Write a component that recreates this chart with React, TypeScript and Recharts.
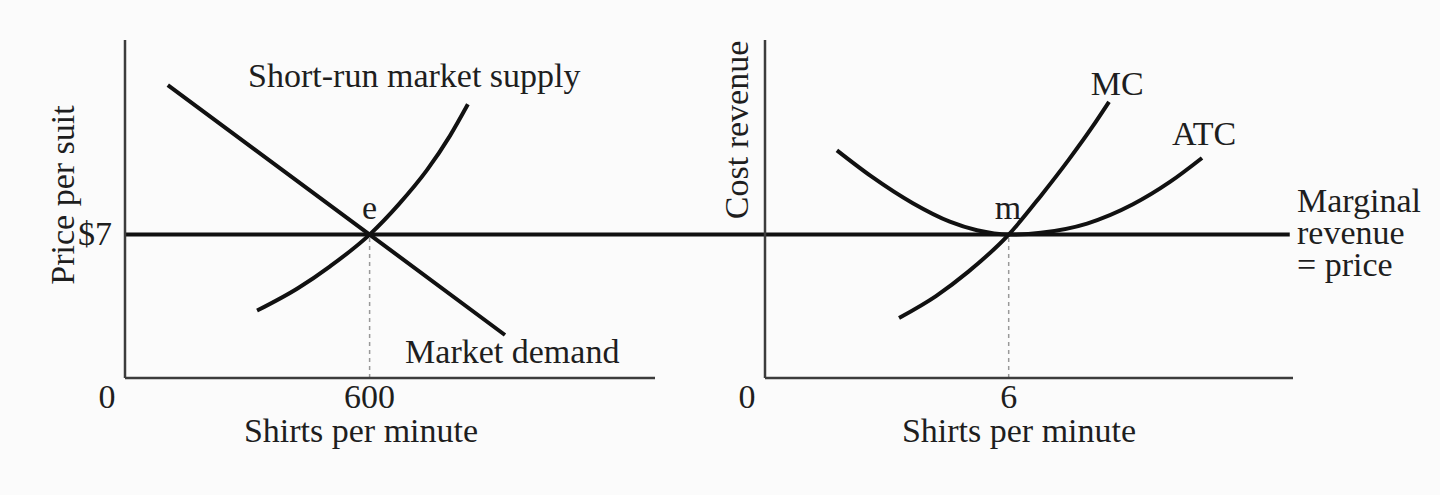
import {
  LineChart,
  Line,
  XAxis,
  YAxis,
  ReferenceLine,
  ReferenceDot,
  Label,
} from 'recharts'

// left panel: market
const demandQ = [105, 600, 932]
const demandP = [14.3, 7, 2.1]
const supplyQ = [324, 424, 503, 600, 672, 741, 797, 841]
const supplyP = [3.29, 4.38, 5.45, 7, 8.49, 10.16, 11.82, 13.36]

// right panel: firm
const mcQ = [3.3, 4.21, 5.0, 6, 6.79, 7.48, 8.05, 8.47]
const mcP = [2.93, 4.0, 5.18, 7, 8.89, 10.66, 12.23, 13.48]
const atcQ = [1.77, 2.61, 3.64, 4.55, 5.22, 6, 6.79, 7.93, 9.06, 9.97, 10.76]
const atcP = [11.11, 9.85, 8.53, 7.63, 7.21, 7, 7.09, 7.54, 8.48, 9.57, 10.74]

const price = 7
const marketQ = 600
const firmQ = 6
const leftTicks = [0, 600]
const rightTicks = [0, 6]
const priceTicks = [7]

// annotation anchors (data units)
const leftNotes = [
  { q: 302, p: 14.2, text: 'Short-run market supply', anchor: 'start' },
  { q: 687, p: 0.73, text: 'Market demand', anchor: 'start' },
  { q: 600, p: 7.75, text: 'e', anchor: 'middle' },
]
const rightNotes = [
  { q: 5.98, p: 7.75, text: 'm', anchor: 'middle' },
  { q: 8.67, p: 13.82, text: 'MC', anchor: 'middle' },
  { q: 10.81, p: 11.37, text: 'ATC', anchor: 'middle' },
]
const mrLines = ['Marginal', 'revenue', '= price']

const zip = (q: number[], p: number[]) => q.map((v, i) => ({ q: v, p: p[i] }))

const FONT = '"Liberation Serif", "Times New Roman", serif'
const FS = 34
const INK = '#1e1e1e'
const AXIS = '#3c3c3c'

const XTick = (props: any) => {
  const { x, y, payload } = props
  const shift = payload.value === 0 ? -18 : 0
  return (
    <text x={x + shift} y={y + 30} textAnchor="middle" fontFamily={FONT} fontSize={FS} fill={INK}>
      {payload.value}
    </text>
  )
}

const YTick = (props: any) => {
  const { x, y, payload } = props
  return (
    <text x={x - 13} y={y + 10} textAnchor="end" fontFamily={FONT} fontSize={FS} fill={INK}>
      ${payload.value}
    </text>
  )
}

const noteLabel = (text: string, anchor: string) => (props: any) => {
  const vb = props.viewBox || {}
  return (
    <text x={vb.x} y={vb.y} textAnchor={anchor} fontFamily={FONT} fontSize={FS} fill={INK}>
      {text}
    </text>
  )
}

const mrLabel = (props: any) => {
  const vb = props.viewBox || {}
  return (
    <text x={vb.x} y={vb.y} fontFamily={FONT} fontSize={FS} fill={INK}>
      {mrLines.map((t, i) => (
        <tspan key={t} x={vb.x} dy={i === 0 ? 0 : 32}>
          {t}
        </tspan>
      ))}
    </text>
  )
}

const xTitle = (dx: number) => (props: any) => {
  const vb = props.viewBox || {}
  return (
    <text x={vb.x + dx} y={vb.y + 64} textAnchor="middle" fontFamily={FONT} fontSize={FS} fill={INK}>
      Shirts per minute
    </text>
  )
}

const yTitle = (text: string, dx: number, dy: number) => (props: any) => {
  const vb = props.viewBox || {}
  const x = vb.x + dx
  const y = vb.y + dy
  return (
    <text
      x={x}
      y={y}
      transform={`rotate(-90, ${x}, ${y})`}
      textAnchor="middle"
      fontFamily={FONT}
      fontSize={FS}
      fill={INK}
    >
      {text}
    </text>
  )
}

const curve = { stroke: '#111', strokeWidth: 4, dot: false, activeDot: false, isAnimationActive: false }

export default function App() {
  return (
    <div style={{ position: 'absolute', left: 0, top: 0, width: 1440, height: 495, background: '#fbfbfb' }}>
      <div style={{ position: 'absolute', left: 0, top: 0 }}>
        <LineChart width={780} height={495} margin={{ top: 40, right: 125, bottom: 37, left: 65 }}>
          <XAxis
            type="number"
            dataKey="q"
            domain={[0, 1300]}
            allowDataOverflow
            ticks={leftTicks}
            tick={<XTick />}
            tickLine={false}
            tickSize={0}
            tickMargin={0}
            height={80}
            axisLine={{ stroke: AXIS, strokeWidth: 2.5 }}
          >
            <Label content={xTitle(236)} />
          </XAxis>
          <YAxis
            type="number"
            domain={[0, 16.5]}
            allowDataOverflow
            ticks={priceTicks}
            tick={<YTick />}
            tickLine={false}
            tickSize={0}
            tickMargin={0}
            width={60}
            axisLine={{ stroke: AXIS, strokeWidth: 2.5 }}
          >
            <Label content={yTitle('Price per suit', 9, 155)} />
          </YAxis>
          <ReferenceLine
            segment={[{ x: marketQ, y: 0 }, { x: marketQ, y: price }]}
            stroke="#999"
            strokeWidth={1.5}
            strokeDasharray="4 4"
          />
          <ReferenceLine
            segment={[{ x: 0, y: price }, { x: 1570, y: price }]}
            stroke="#111"
            strokeWidth={4}
            ifOverflow="visible"
          />
          <Line data={zip(demandQ, demandP)} dataKey="p" type="linear" {...curve} />
          <Line data={zip(supplyQ, supplyP)} dataKey="p" type="monotone" {...curve} />
          {leftNotes.map((n) => (
            <ReferenceDot
              key={n.text}
              x={n.q}
              y={n.p}
              r={0}
              fill="none"
              stroke="none"
              ifOverflow="visible"
              label={{ content: noteLabel(n.text, n.anchor) }}
            />
          ))}
        </LineChart>
      </div>
      <div style={{ position: 'absolute', left: 680, top: 0 }}>
        <LineChart width={760} height={495} margin={{ top: 40, right: 147, bottom: 37, left: 25 }}>
          <XAxis
            type="number"
            dataKey="q"
            domain={[0, 13]}
            allowDataOverflow
            ticks={rightTicks}
            tick={<XTick />}
            tickLine={false}
            tickSize={0}
            tickMargin={0}
            height={80}
            axisLine={{ stroke: AXIS, strokeWidth: 2.5 }}
          >
            <Label content={xTitle(254)} />
          </XAxis>
          <YAxis
            type="number"
            domain={[0, 16.5]}
            allowDataOverflow
            tick={false}
            tickLine={false}
            width={60}
            axisLine={{ stroke: AXIS, strokeWidth: 2.5 }}
          >
            <Label content={yTitle('Cost revenue', 43, 90)} />
          </YAxis>
          <ReferenceLine
            segment={[{ x: firmQ, y: 0 }, { x: firmQ, y: price }]}
            stroke="#999"
            strokeWidth={1.5}
            strokeDasharray="4 4"
          />
          <ReferenceLine
            segment={[{ x: 0, y: price }, { x: 12.92, y: price }]}
            stroke="#111"
            strokeWidth={4}
            ifOverflow="visible"
          />
          <Line data={zip(atcQ, atcP)} dataKey="p" type="monotone" {...curve} />
          <Line data={zip(mcQ, mcP)} dataKey="p" type="monotone" {...curve} />
          {rightNotes.map((n) => (
            <ReferenceDot
              key={n.text}
              x={n.q}
              y={n.p}
              r={0}
              fill="none"
              stroke="none"
              ifOverflow="visible"
              label={{ content: noteLabel(n.text, n.anchor) }}
            />
          ))}
          <ReferenceDot
            x={13.1}
            y={8.1}
            r={0}
            fill="none"
            stroke="none"
            ifOverflow="visible"
            label={{ content: mrLabel }}
          />
        </LineChart>
      </div>
    </div>
  )
}
